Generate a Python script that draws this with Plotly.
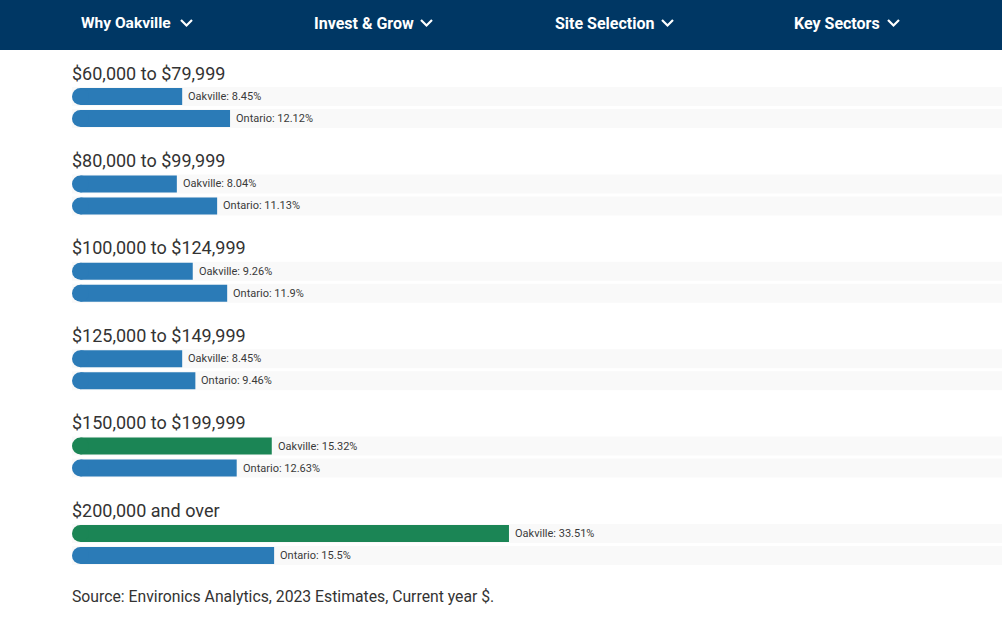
import plotly.graph_objects as go

# ---- data ----
categories = ["$60,000 to $79,999", "$80,000 to $99,999", "$100,000 to $124,999",
              "$125,000 to $149,999", "$150,000 to $199,999", "$200,000 and over"]
oakville = [8.45, 8.04, 9.26, 8.45, 15.32, 33.51]
ontario = [12.12, 11.13, 11.9, 9.46, 12.63, 15.5]
series_names = ["Oakville", "Ontario"]
nav_items = ["Why Oakville", "Invest & Grow", "Site Selection", "Key Sectors"]
source_note = "Source: Environics Analytics, 2023 Estimates, Current year $."

# ---- style / layout ----
W, H = 1002, 618
LEFT = 72
PX_PER_PCT = 13.04
GROUP_PX = 87.4
FIRST_ROW_PX = 96.5
ROW_OFFSET = 22 / GROUP_PX
BAR_PX = 17
BAR_W = BAR_PX / GROUP_PX
TRACK_W = 19 / GROUP_PX
R = (BAR_PX / 2) / PX_PER_PCT      # radius of rounded left end, in % units
BLUE = "#2b7bb7"
GREEN = "#1b8555"
NAV = "#003764"
TEXT = "#333333"
FONT = "Roboto"

x_max = (W - LEFT) / PX_PER_PCT
y_top = -FIRST_ROW_PX / GROUP_PX
y_bot = (H - FIRST_ROW_PX) / GROUP_PX

def px_x(p):
    return (p - LEFT) / (W - LEFT)

def px_y(p):
    return 1 - p / H

fig = go.Figure()

groups = list(range(len(categories)))
y_oak = [g for g in groups]
y_ont = [g + ROW_OFFSET for g in groups]
oak_colors = [GREEN if o > n else BLUE for o, n in zip(oakville, ontario)]

for name, vals, ys, cols in [(series_names[0], oakville, y_oak, oak_colors),
                             (series_names[1], ontario, y_ont, [BLUE] * len(ontario))]:
    # square-ended body
    fig.add_trace(go.Bar(
        orientation="h", y=ys, x=[v - R for v in vals], base=[R] * len(vals),
        width=BAR_W, marker=dict(color=cols, line=dict(width=0)),
        name=name, hoverinfo="skip"))
    # rounded left end
    fig.add_trace(go.Scatter(
        x=[R] * len(vals), y=ys, mode="markers",
        marker=dict(symbol="circle", size=BAR_PX, color=cols, line=dict(width=0)),
        name=name, hoverinfo="skip", cliponaxis=False))

shapes = []
annotations = []

# tracks
for yy in y_oak + y_ont:
    shapes.append(dict(type="rect", xref="paper", yref="y", x0=0, x1=1,
                       y0=yy - TRACK_W / 2, y1=yy + TRACK_W / 2,
                       fillcolor="#f9f9f9", line=dict(width=0), layer="below"))

# value labels
for name, vals, ys in [(series_names[0], oakville, y_oak), (series_names[1], ontario, y_ont)]:
    for v, yy in zip(vals, ys):
        annotations.append(dict(x=v, y=yy, xref="x", yref="y", text=f"{name}: {v:g}%",
                                showarrow=False, xanchor="left", yanchor="middle", xshift=4,
                                font=dict(family=FONT, size=11, color="#3a3a3a")))

# group titles
for g, cat in zip(groups, categories):
    annotations.append(dict(x=0, y=g - 23.5 / GROUP_PX, xref="paper", yref="y", text=cat,
                            showarrow=False, xanchor="left", yanchor="middle", xshift=-2,
                            font=dict(family=FONT, size=18, color=TEXT)))

# source note
annotations.append(dict(x=0, y=px_y(596), xref="paper", yref="paper", text=source_note,
                        showarrow=False, xanchor="left", yanchor="middle", xshift=-2,
                        font=dict(family=FONT, size=15.75, color=TEXT)))

# navigation bar
shapes.append(dict(type="rect", xref="paper", yref="paper", x0=px_x(-10), x1=px_x(W + 10),
                   y0=px_y(50), y1=px_y(-10), fillcolor=NAV, line=dict(width=0), layer="above"))
nav_text_left = [79, 312, 553, 792]
nav_sizes = [15.5, 16, 16, 16]
nav_chev_left = [181, 421, 662, 888]
for item, tx, sz, cx in zip(nav_items, nav_text_left, nav_sizes, nav_chev_left):
    annotations.append(dict(x=px_x(tx), y=px_y(23), xref="paper", yref="paper", text=f"<b>{item}</b>",
                            showarrow=False, xanchor="left", yanchor="middle",
                            font=dict(family=FONT, size=sz, color="white")))
    path = (f"M {px_x(cx)} {px_y(20)} L {px_x(cx + 5.5)} {px_y(25.5)} "
            f"L {px_x(cx + 11)} {px_y(20)}")
    shapes.append(dict(type="path", xref="paper", yref="paper", path=path,
                       line=dict(color="white", width=2.2), layer="above"))

fig.update_layout(
    width=W, height=H,
    margin=dict(l=LEFT, r=0, t=0, b=0),
    paper_bgcolor="white", plot_bgcolor="white",
    showlegend=False, barmode="overlay",
    xaxis=dict(range=[0, x_max], visible=False, fixedrange=True),
    yaxis=dict(range=[y_bot, y_top], visible=False, fixedrange=True),
    shapes=shapes, annotations=annotations,
)

fig.write_html("out.html", config={"displayModeBar": False})
